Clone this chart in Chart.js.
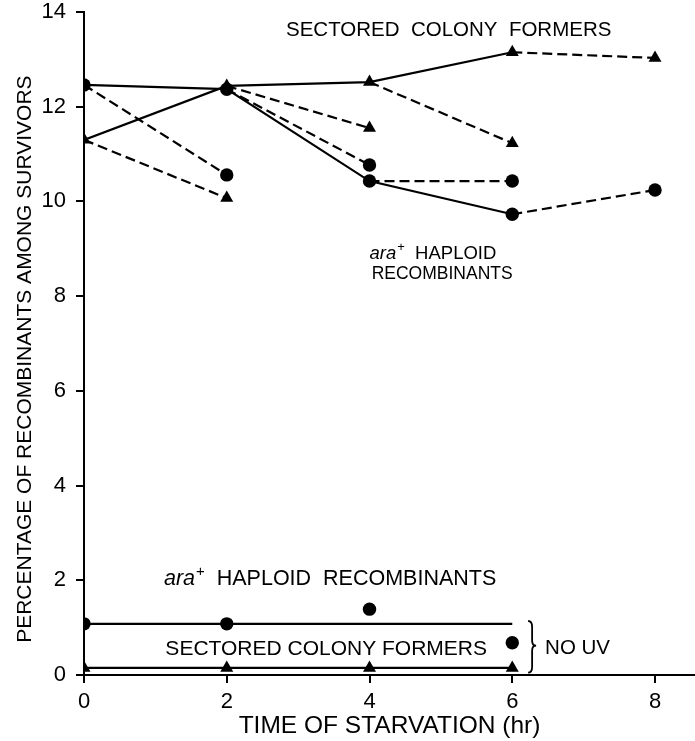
<!DOCTYPE html>
<html>
<head>
<meta charset="utf-8">
<script src="https://cdn.jsdelivr.net/npm/chart.js@4.4.1/dist/chart.umd.min.js"></script>
<style>
  html, body { margin: 0; padding: 0; background: #fff; }
  #wrap { width: 695px; height: 741px; }
</style>
</head>
<body>
<div id="wrap"><canvas id="chart" width="695" height="741"></canvas></div>
<script>
// Time points (hr) and axis ticks
const hours = [0, 2, 4, 6, 8];
const xTicks = [0, 2, 4, 6, 8];
const yTicks = [0, 2, 4, 6, 8, 10, 12, 14];

// UV-irradiated cultures, continuous time course (% among survivors)
const uvHaploidMain = [12.46, 12.37, 10.43, 9.73, 10.24];   // ara+ haploid recombinants (circles)
const uvSectoredMain = [11.30, 12.44, 12.52, 13.15, 13.03]; // sectored colony formers (triangles)

// Branches: value reached 2 h after each branch start (dashed)
const branchStarts = [0, 2, 4];
const uvHaploidBranch = [10.56, 10.77, 10.43];
const uvSectoredBranch = [10.07, 11.55, 11.23];

// No UV controls
const noUvHours = [0, 2, 4, 6];
const noUvHaploid = [1.08, 1.08, 1.39, 0.68];
const noUvHaploidLevel = [1.08, 1.08];
const noUvSectored = [0.15, 0.15, 0.15, 0.15];

const FONT = '"Liberation Sans", Arial, Helvetica, sans-serif';
const INK = '#000';
const DASH = [10, 5];

const pts = (xs, ys) => xs.map((x, i) => ({ x, y: ys[i] }));
const valueAt = (series, h) => series[hours.indexOf(h)];

const circle = { pointStyle: 'circle', pointRadius: 6.7, pointBorderWidth: 0 };
const triangle = { pointStyle: 'triangle', pointRadius: 7.5, pointBorderWidth: 0 };
const base = {
  type: 'line', borderColor: INK, backgroundColor: INK,
  pointBackgroundColor: INK, pointBorderColor: INK,
  borderWidth: 2.2, fill: false, tension: 0, pointHoverRadius: 0
};

const datasets = [];

// main time courses: solid to 6 h, dashed from 6 to 8 h
const lastDashed = { borderDash: c => (c.p0DataIndex === 3 ? DASH : undefined) };
datasets.push({ ...base, ...triangle, data: pts(hours, uvSectoredMain), segment: lastDashed });
datasets.push({ ...base, ...circle, data: pts(hours, uvHaploidMain), segment: lastDashed });

// dashed branches
branchStarts.forEach((h, i) => {
  datasets.push({
    ...base, ...triangle, borderDash: DASH,
    pointRadius: [0, triangle.pointRadius],
    data: pts([h, h + 2], [valueAt(uvSectoredMain, h), uvSectoredBranch[i]])
  });
  datasets.push({
    ...base, ...circle, borderDash: DASH,
    pointRadius: [0, circle.pointRadius],
    data: pts([h, h + 2], [valueAt(uvHaploidMain, h), uvHaploidBranch[i]])
  });
});

// no UV
datasets.push({ ...base, ...triangle, data: pts(noUvHours, noUvSectored) });
datasets.push({ ...base, pointRadius: 0, data: pts([noUvHours[0], noUvHours[noUvHours.length - 1]], noUvHaploidLevel) });
datasets.push({ ...base, ...circle, showLine: false, data: pts(noUvHours, noUvHaploid) });

// text annotations and brace
const notes = {
  id: 'notes',
  afterDatasetsDraw(chart) {
    const { ctx, scales: { x, y } } = chart;
    ctx.save();
    ctx.fillStyle = INK;
    ctx.strokeStyle = INK;
    ctx.textBaseline = 'middle';
    ctx.textAlign = 'left';

    const plain = (s, px, py, size) => {
      ctx.font = `${size}px ${FONT}`;
      ctx.fillText(s, px, py);
      return px + ctx.measureText(s).width;
    };
    const araPlus = (rest, px, py, size) => {
      ctx.font = `italic ${size}px ${FONT}`;
      ctx.fillText('ara', px, py);
      px += ctx.measureText('ara').width + 1;
      ctx.font = `${Math.round(size * 0.72)}px ${FONT}`;
      ctx.fillText('+', px, py - size * 0.35);
      px += ctx.measureText('+').width;
      return plain(rest, px, py, size);
    };

    plain('SECTORED  COLONY  FORMERS', x.getPixelForValue(2.83), y.getPixelForValue(13.62), 20.5);
    araPlus('  HAPLOID', x.getPixelForValue(4.0), y.getPixelForValue(8.9), 18.5);
    plain('RECOMBINANTS', x.getPixelForValue(4.03), y.getPixelForValue(8.46), 17.5);

    araPlus('  HAPLOID  RECOMBINANTS', x.getPixelForValue(1.12), y.getPixelForValue(2.02), 21.5);
    plain('SECTORED COLONY FORMERS', x.getPixelForValue(1.14), y.getPixelForValue(0.55), 21);
    plain('NO UV', x.getPixelForValue(6.46), y.getPixelForValue(0.57), 20.5);

    // curly brace grouping the no-UV series
    const bx = x.getPixelForValue(6.25);
    const top = y.getPixelForValue(1.14), bot = y.getPixelForValue(0.05);
    const mid = y.getPixelForValue(0.62), w = 6;
    ctx.lineWidth = 1.8;
    ctx.beginPath();
    ctx.moveTo(bx - 2, top);
    ctx.quadraticCurveTo(bx + 2, top, bx + 2, top + 6);
    ctx.lineTo(bx + 2, mid - 5);
    ctx.quadraticCurveTo(bx + 2, mid, bx + w, mid);
    ctx.quadraticCurveTo(bx + 2, mid, bx + 2, mid + 5);
    ctx.lineTo(bx + 2, bot - 6);
    ctx.quadraticCurveTo(bx + 2, bot, bx - 2, bot);
    ctx.stroke();

    // y-axis title
    ctx.font = `21px ${FONT}`;
    ctx.textAlign = 'center';
    ctx.translate(25, y.getPixelForValue(6.67));
    ctx.rotate(-Math.PI / 2);
    ctx.fillText('PERCENTAGE OF RECOMBINANTS AMONG SURVIVORS', 0, 0);
    ctx.restore();
  }
};

new Chart(document.getElementById('chart'), {
  type: 'line',
  data: { datasets },
  plugins: [notes],
  options: {
    responsive: false,
    animation: false,
    events: [],
    layout: { autoPadding: false, padding: { top: 12, right: 0, left: 0, bottom: 0 } },
    plugins: { legend: { display: false }, tooltip: { enabled: false } },
    scales: {
      x: {
        type: 'linear', min: 0, max: 8.56,
        afterBuildTicks: s => { s.ticks = xTicks.map(v => ({ value: v })); },
        afterFit: s => { s.height = 66; s.paddingLeft = 0; s.paddingRight = 0; },
        grid: { drawOnChartArea: false, drawTicks: true, tickLength: 8, color: INK, lineWidth: 2 },
        border: { display: true, color: INK, width: 2 },
        ticks: { color: INK, font: { family: FONT, size: 22 }, padding: 6, maxRotation: 0 },
        title: { display: true, text: 'TIME OF STARVATION (hr)', color: INK,
                 font: { family: FONT, size: 24.5 }, padding: 0 }
      },
      y: {
        type: 'linear', min: 0, max: 14,
        afterBuildTicks: s => { s.ticks = yTicks.map(v => ({ value: v })); },
        afterFit: s => { s.width = 84; s.paddingTop = 0; s.paddingBottom = 0; },
        grid: { drawOnChartArea: false, drawTicks: true, tickLength: 8, color: INK, lineWidth: 2 },
        border: { display: true, color: INK, width: 2 },
        ticks: { color: INK, font: { family: FONT, size: 22 }, padding: 10 }
      }
    }
  }
});
</script>
</body>
</html>
